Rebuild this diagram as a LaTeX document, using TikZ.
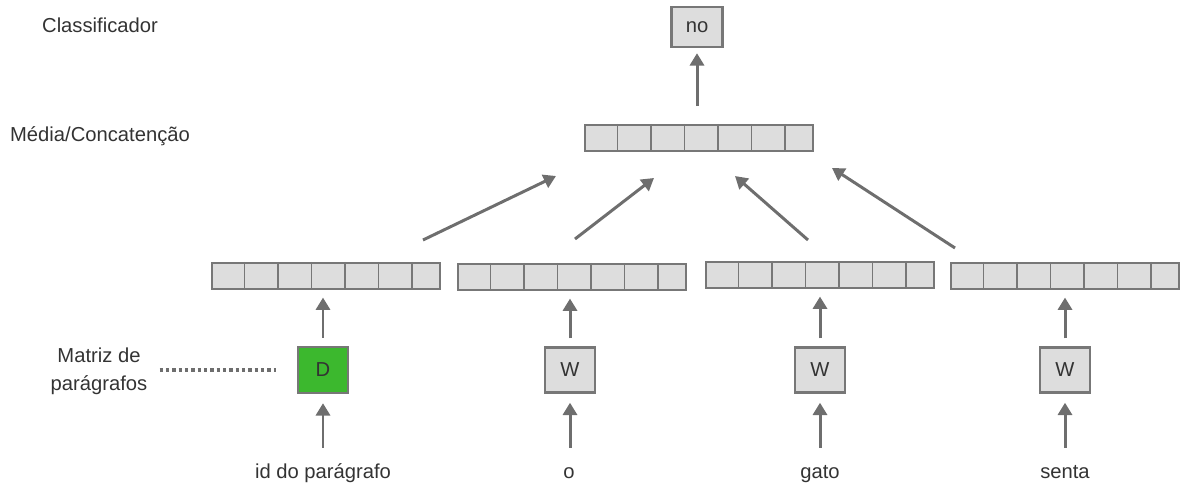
\documentclass[tikz,border=0pt]{standalone}
\usepackage{fontspec}
\setmainfont{Liberation Sans}
\usetikzlibrary{arrows.meta,calc}
\definecolor{boxgray}{HTML}{DDDDDD}
\definecolor{linegray}{HTML}{777777}
\definecolor{arrowgray}{HTML}{6E6E6E}
\definecolor{textgray}{HTML}{333333}
\definecolor{paragreen}{HTML}{3CB82E}
\tikzset{>={Triangle[width=8pt,length=7pt]}}

% one embedding vector: name, left x, top y
\newcommand{\embvec}[3]{%
  \node[vecbox, anchor=north west] (#1) at (#2,#3) {};
  \foreach \i in {1,...,6}
    \draw[linegray, line width=0.9pt] ($(#1.north west)+(\i*33.5,0)$) -- ++(0,26);
}

\begin{document}
\begin{tikzpicture}[x=0.02cm, y=-0.02cm, font=\fontsize{11.5}{13.5}\selectfont, text=textgray,
    wbox/.style={draw=linegray, line width=1.4pt, fill=boxgray, minimum width=1cm, minimum height=0.9cm, inner sep=0},
    vecbox/.style={draw=linegray, line width=0.9pt, fill=boxgray, minimum width=4.56cm, minimum height=0.52cm, inner sep=0},
    word/.style={inner sep=0, text height=8.5pt, text depth=2.5pt},
    flow/.style={->, draw=arrowgray, line width=1.7pt},
    dots/.style={draw=arrowgray, line width=1.8pt, dash pattern=on 2pt off 1.6pt}]
  \useasboundingbox (0,0) rectangle (1180,486);

  % labels on the left
  \node (cls) at (100,25) {Classificador};
  \node (avg) at (100,136) {Média/Concatenção};
  \node[align=center, inner sep=0, font=\fontsize{11.5}{15.9}\selectfont] (mat) at (99,371) {Matriz de\\parágrafos};

  % output
  \node[wbox, minimum width=1.02cm, minimum height=0.8cm] (no) at (697,27) {no};
  \embvec{cat}{584}{124}
  \draw[flow, shorten <=0.36cm, shorten >=0.1cm] (cat.north -| no) -- (no.south);

  % word vectors
  \embvec{v1}{211}{262}
  \embvec{v2}{457}{263}
  \embvec{v3}{705}{261}
  \embvec{v4}{950}{262}

  % paragraph and word matrices
  \node[wbox, fill=paragreen, minimum height=0.92cm] (D) at (323,370) {D};
  \node[wbox] (W1) at (570,370) {W};
  \node[wbox] (W2) at (820,370) {W};
  \node[wbox] (W3) at (1065,370) {W};

  % inputs
  \node[word] (id) at (323,473) {id do parágrafo};
  \node[word] (o) at (569,473) {o};
  \node[word] (gato) at (820,473) {gato};
  \node[word] (senta) at (1065,473) {senta};

  \draw[flow, shorten <=0.3cm, shorten >=0.18cm] (id.north) -- (D.south);
  \draw[flow, shorten <=0.3cm, shorten >=0.18cm] (o.north -| W1) -- (W1.south);
  \draw[flow, shorten <=0.3cm, shorten >=0.18cm] (gato.north) -- (W2.south);
  \draw[flow, shorten <=0.3cm, shorten >=0.18cm] (senta.north) -- (W3.south);

  \draw[flow, shorten <=0.16cm, shorten >=0.16cm] (D.north) -- (D.north |- v1.south);
  \draw[flow, shorten <=0.16cm, shorten >=0.16cm] (W1.north) -- (W1.north |- v2.south);
  \draw[flow, shorten <=0.16cm, shorten >=0.16cm] (W2.north) -- (W2.north |- v3.south);
  \draw[flow, shorten <=0.16cm, shorten >=0.16cm] (W3.north) -- (W3.north |- v4.south);

  \draw[dots, shorten <=0.24cm, shorten >=0.42cm] (mat.east |- D.west) -- (D.west);

  % towards the average
  \coordinate (s1) at (423,240);
  \coordinate (e1) at (556,176);
  \coordinate (s2) at (575,239);
  \coordinate (e2) at (654,178);
  \coordinate (s3) at (808,240);
  \coordinate (e3) at (735,176);
  \coordinate (s4) at (955,248);
  \coordinate (e4) at (832,168);
  \foreach \k in {1,...,4}
    \draw[flow] (s\k) -- (e\k);
\end{tikzpicture}
\end{document}
